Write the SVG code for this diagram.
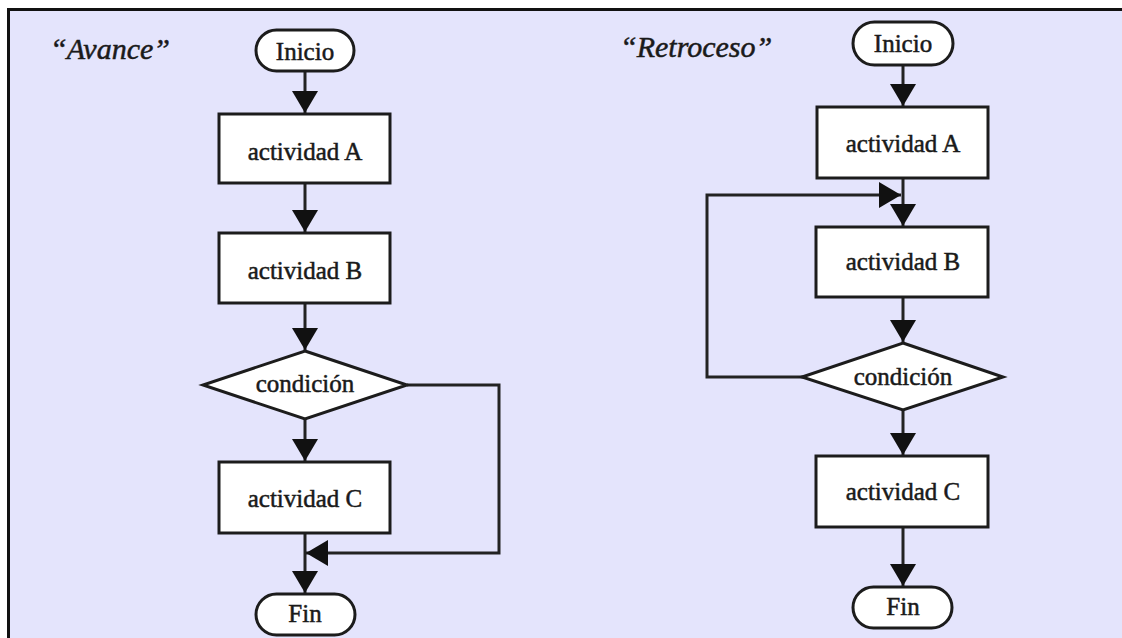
<svg xmlns="http://www.w3.org/2000/svg" width="1122" height="638" viewBox="0 0 1122 638">
  <style>
    .panel { fill: #e4e4fc; stroke: #111; stroke-width: 3; }
    .shape { fill: #ffffff; stroke: #1c1c1c; stroke-width: 3; }
    .label { font-family: "Liberation Serif", "Times New Roman", serif; font-size: 25px; fill: #1a1a1a; stroke: #1a1a1a; stroke-width: 0.5; text-anchor: middle; }
    .title { font-family: "Liberation Serif", "Times New Roman", serif; font-size: 30px; font-style: italic; fill: #1a1a1a; stroke: #1a1a1a; stroke-width: 0.5; }
    .flow { fill: none; stroke: #222; stroke-width: 3; }
  </style>
  <defs>
    <marker id="arrow" viewBox="0 0 22 26" refX="22" refY="13" markerWidth="22" markerHeight="26" markerUnits="userSpaceOnUse" orient="auto">
      <path d="M0,0 L22,13 L0,26 Z" fill="#111"/>
    </marker>
  </defs>

  <rect x="0" y="0" width="1122" height="638" fill="#ffffff"/>
  <rect class="panel" x="8.5" y="9.5" width="1125" height="640"/>

  <!-- Titles -->
  <text class="title" x="50" y="59">“Avance”</text>
  <text class="title" x="620" y="57">“Retroceso”</text>

  <!-- Connectors -->
  <g id="connectors">
    <!-- Avance -->
    <path class="flow" d="M305,71 V113" marker-end="url(#arrow)"/>
    <path class="flow" d="M305,183 V232" marker-end="url(#arrow)"/>
    <path class="flow" d="M305,303 V350" marker-end="url(#arrow)"/>
    <path class="flow" d="M305,419 V461" marker-end="url(#arrow)"/>
    <path class="flow" d="M305,533 V593" marker-end="url(#arrow)"/>
    <path class="flow" d="M407,385 H499 V553 H306" marker-end="url(#arrow)"/>
    <!-- Retroceso -->
    <path class="flow" d="M903,65 V106" marker-end="url(#arrow)"/>
    <path class="flow" d="M903,178 V226" marker-end="url(#arrow)"/>
    <path class="flow" d="M803,377 H707 V195 H901" marker-end="url(#arrow)"/>
    <path class="flow" d="M903,297 V342" marker-end="url(#arrow)"/>
    <path class="flow" d="M903,410 V455" marker-end="url(#arrow)"/>
    <path class="flow" d="M903,527 V586" marker-end="url(#arrow)"/>
  </g>

  <!-- Avance flow -->
  <g id="av-inicio">
    <rect class="shape" x="256" y="30" width="98" height="41" rx="20.5"/>
    <text class="label" x="305" y="60">Inicio</text>
  </g>
  <g id="av-actA">
    <rect class="shape" x="219" y="114" width="171" height="69"/>
    <text class="label" x="305" y="160">actividad A</text>
  </g>
  <g id="av-actB">
    <rect class="shape" x="219" y="233" width="171" height="70"/>
    <text class="label" x="305" y="279">actividad B</text>
  </g>
  <g id="av-cond">
    <polygon class="shape" points="305,351 407,385 305,419 203,385"/>
    <text class="label" x="305" y="392">condición</text>
  </g>
  <g id="av-actC">
    <rect class="shape" x="219" y="462" width="171" height="71"/>
    <text class="label" x="305" y="507">actividad C</text>
  </g>
  <g id="av-fin">
    <rect class="shape" x="256" y="594" width="99" height="41" rx="20.5"/>
    <text class="label" x="305" y="622">Fin</text>
  </g>

  <!-- Retroceso flow -->
  <g id="re-inicio">
    <rect class="shape" x="853" y="22" width="100" height="43" rx="21.5"/>
    <text class="label" x="903" y="52">Inicio</text>
  </g>
  <g id="re-actA">
    <rect class="shape" x="817" y="107" width="171" height="71"/>
    <text class="label" x="903" y="152">actividad A</text>
  </g>
  <g id="re-actB">
    <rect class="shape" x="816" y="227" width="172" height="70"/>
    <text class="label" x="903" y="270">actividad B</text>
  </g>
  <g id="re-cond">
    <polygon class="shape" points="903,343 1003,377 903,410 802,377"/>
    <text class="label" x="903" y="385">condición</text>
  </g>
  <g id="re-actC">
    <rect class="shape" x="816" y="456" width="172" height="71"/>
    <text class="label" x="903" y="500">actividad C</text>
  </g>
  <g id="re-fin">
    <rect class="shape" x="853" y="587" width="99" height="41" rx="20.5"/>
    <text class="label" x="903" y="615">Fin</text>
  </g>
</svg>
